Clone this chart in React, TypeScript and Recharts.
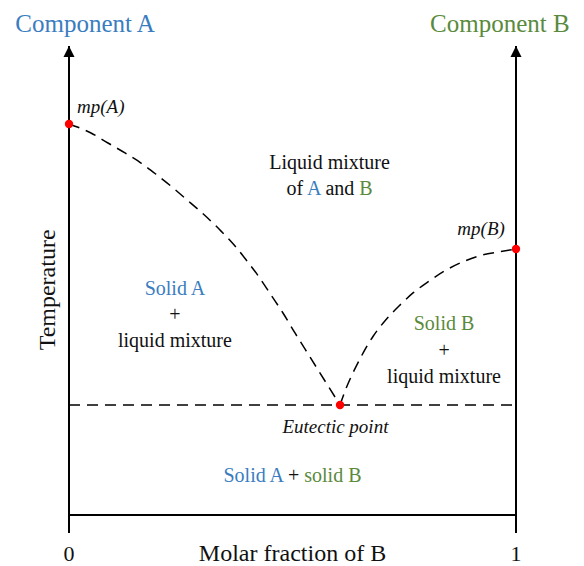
import React from "react";
import { ComposedChart, Line, Scatter, XAxis, YAxis, ReferenceLine, ReferenceDot } from "recharts";

// liquidus of A (left branch) and of B (right branch), temperature in arbitrary units
const X_LEFT = [0, 0.0492, 0.0872, 0.1253, 0.1611, 0.1969, 0.2304, 0.2617, 0.2953, 0.3378, 0.3714, 0.3982, 0.4251, 0.4519, 0.4787, 0.5056, 0.5391, 0.5727, 0.6063];
const T_LEFT = [83.37, 81.45, 79.32, 77.19, 75.05, 72.49, 69.94, 67.38, 64.61, 60.77, 57.36, 54.16, 50.75, 46.91, 43.07, 38.81, 33.69, 28.57, 23.45];
const X_RIGHT = [0.6063, 0.619, 0.6376, 0.6584, 0.6808, 0.7085, 0.7383, 0.7703, 0.8038, 0.8412, 0.88, 0.9217, 0.9642, 1];
const T_RIGHT = [23.45, 26.8, 30.77, 34.61, 38.17, 41.58, 44.56, 47.4, 49.74, 52.09, 53.94, 55.37, 56.14, 56.72];
const EUTECTIC_T = 23.45;
const SPECIAL_X = [0, 0.6063, 1];
const SPECIAL_T = [83.37, 23.45, 56.72];
const X_TICKS = [0, 1];

const BLUE = "#3a7dbf";
const GREEN = "#5a8a3c";
const FONT = "Liberation Serif, Times New Roman, Times, serif";
const DASH = "11 7";

const leftData = X_LEFT.map((x, i) => ({ x, T: T_LEFT[i] }));
const rightData = X_RIGHT.map((x, i) => ({ x, T: T_RIGHT[i] }));
const solidusData = X_TICKS.map(x => ({ x, T: EUTECTIC_T }));
const pointData = SPECIAL_X.map((x, i) => ({ x, T: SPECIAL_T[i] }));

type Seg = { t: string; c?: string };
type Note = {
  x: number; y: number; lines: Seg[][]; size: number;
  italic?: boolean; anchor?: "start" | "middle" | "end"; rotate?: boolean; lh?: number;
};

const NOTES: Note[] = [
  { x: 0.036, y: 103.0, lines: [[{ t: "Component A", c: BLUE }]], size: 25 },
  { x: 0.964, y: 103.0, lines: [[{ t: "Component B", c: GREEN }]], size: 25 },
  { x: 0.018, y: 85.7, lines: [[{ t: "mp(A)" }]], size: 19, italic: true, anchor: "start" },
  { x: 0.975, y: 59.7, lines: [[{ t: "mp(B)" }]], size: 19, italic: true, anchor: "end" },
  {
    x: 0.583, y: 73.8, size: 20, lh: 26,
    lines: [[{ t: "Liquid mixture" }], [{ t: "of " }, { t: "A", c: BLUE }, { t: " and " }, { t: "B", c: GREEN }]],
  },
  {
    x: 0.237, y: 46.9, size: 20, lh: 26,
    lines: [[{ t: "Solid A", c: BLUE }], [{ t: "+" }], [{ t: "liquid mixture" }]],
  },
  {
    x: 0.839, y: 39.4, size: 20, lh: 26.5,
    lines: [[{ t: "Solid B", c: GREEN }], [{ t: "+" }], [{ t: "liquid mixture" }]],
  },
  { x: 0.596, y: 17.5, lines: [[{ t: "Eutectic point" }]], size: 19, italic: true },
  {
    x: 0.5, y: 7.0, size: 20,
    lines: [[{ t: "Solid A", c: BLUE }, { t: " + " }, { t: "solid B", c: GREEN }]],
  },
  { x: -0.031, y: 48.0, lines: [[{ t: "Temperature" }]], size: 24, rotate: true },
  { x: 0.5, y: -9.8, lines: [[{ t: "Molar fraction of B" }]], size: 24 },
];

const renderNote = (n: Note) => (p: any) => (
  <text
    x={p.cx}
    y={p.cy}
    style={{ fontFamily: FONT, fontSize: n.size, fontStyle: n.italic ? "italic" : "normal" }}
    textAnchor={n.anchor ?? "middle"}
    fill="#111"
    transform={n.rotate ? `rotate(-90, ${p.cx}, ${p.cy})` : undefined}
  >
    {n.lines.map((line, i) => (
      <tspan key={i} x={p.cx} dy={i === 0 ? 0 : n.lh ?? 24}>
        {line.map((s, j) => (
          <tspan key={j} fill={s.c ?? "#111"}>{s.t}</tspan>
        ))}
      </tspan>
    ))}
  </text>
);

const arrowHead = (p: any) => (
  <polygon points={`${p.cx},${p.cy} ${p.cx - 5.5},${p.cy + 11} ${p.cx + 5.5},${p.cy + 11}`} fill="#000" />
);

const redDot = (p: any) => <circle cx={p.cx} cy={p.cy} r={4.2} fill="#ff0000" />;

export default function App() {
  return (
    <div style={{ position: "absolute", left: 0, top: 0, width: 584, height: 566, background: "#fff", fontFamily: FONT }}>
      <ComposedChart width={584} height={566} margin={{ top: 46, right: 68, left: 69, bottom: 0 }}>
        <XAxis
          type="number"
          dataKey="x"
          domain={[0, 1]}
          ticks={X_TICKS}
          interval={0}
          height={51}
          tickSize={18}
          tickMargin={12}
          axisLine={{ stroke: "#000", strokeWidth: 2 }}
          tickLine={{ stroke: "#000", strokeWidth: 2 }}
          tick={{ fill: "#111", fontSize: 22, style: { fontFamily: FONT } }}
        />
        <YAxis type="number" dataKey="T" domain={[0, 100]} hide width={0} />
        <ReferenceLine x={0} stroke="#000" strokeWidth={2} ifOverflow="visible" />
        <ReferenceLine x={1} stroke="#000" strokeWidth={2} ifOverflow="visible" />
        <ReferenceDot x={0} y={100} r={0} ifOverflow="visible" shape={arrowHead} />
        <ReferenceDot x={1} y={100} r={0} ifOverflow="visible" shape={arrowHead} />
        <Line data={solidusData} dataKey="T" type="linear" stroke="#000" strokeWidth={1.5} strokeDasharray={DASH} dot={false} activeDot={false} isAnimationActive={false} />
        <Line data={leftData} dataKey="T" type="monotone" stroke="#000" strokeWidth={1.5} strokeDasharray={DASH} dot={false} activeDot={false} isAnimationActive={false} />
        <Line data={rightData} dataKey="T" type="monotone" stroke="#000" strokeWidth={1.5} strokeDasharray={DASH} dot={false} activeDot={false} isAnimationActive={false} />
        <Scatter data={pointData} dataKey="T" shape={redDot} isAnimationActive={false} />
        {NOTES.map((n, i) => (
          <ReferenceDot key={i} x={n.x} y={n.y} r={0} ifOverflow="visible" shape={renderNote(n)} />
        ))}
      </ComposedChart>
    </div>
  );
}
